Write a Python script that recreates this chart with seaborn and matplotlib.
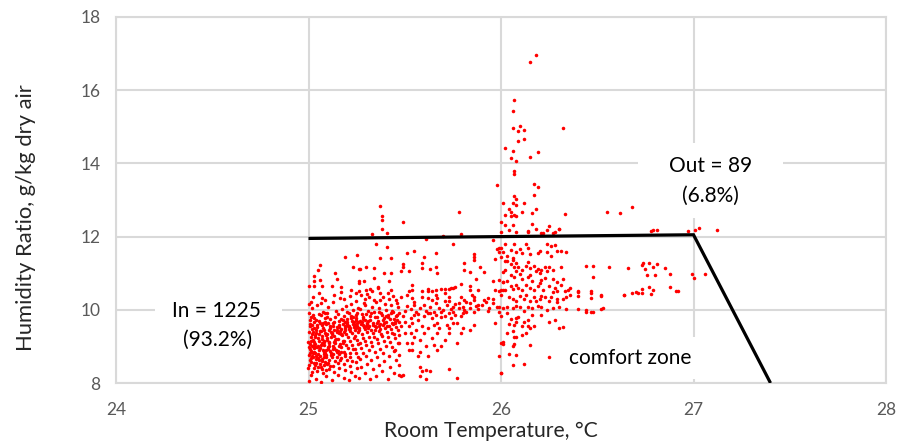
import matplotlib
matplotlib.use("Agg")
import matplotlib.pyplot as plt
import seaborn as sns
import pandas as pd
from matplotlib.patches import Rectangle

# ---------------- data ----------------
x_ticks = [24, 25, 26, 27, 28]
y_ticks = [8, 10, 12, 14, 16, 18]

# comfort-zone boundary (Room Temperature, Humidity Ratio)
zone_temp = [25.0, 27.0, 27.4]
zone_hum = [11.95, 12.05, 8.0]

# dense cluster at 25.0-25.26 C
pts_core = [
    (25.004,8.05),(25.012,8.22),(24.998,8.41),(25.027,8.56),(25.015,8.68),(25.003,8.77),(25.031,8.85),(25.008,8.93),(25.019,9.02),(24.996,9.11),
    (25.024,9.18),(25.011,9.27),(25.002,9.38),(25.017,9.47),(25.006,9.55),(25.029,9.66),(25.013,9.79),(25.001,9.92),(25.016,10.05),(25.005,10.17),
    (25.038,8.12),(25.046,8.33),(25.033,8.49),(25.052,8.62),(25.041,8.74),(25.036,8.81),(25.057,8.89),(25.044,8.97),(25.034,9.06),(25.055,9.14),
    (25.047,9.22),(25.032,9.31),(25.058,9.42),(25.043,9.58),(25.037,9.71),(25.053,9.88),(25.045,10.12),(25.021,8.70),(25.049,9.00),(25.026,8.95),
    (25.009,8.62),(25.022,8.81),(25.014,8.88),(25.035,8.99),(25.007,9.07),(25.028,9.12),(25.018,9.33),(25.040,9.36),(25.010,9.61),(25.025,9.85),
    (25.003,8.50),(25.020,8.30),(25.048,8.45),(25.030,9.50),(25.012,10.20),
    (25.063,8.02),(25.074,8.27),(25.066,8.45),(25.085,8.58),(25.071,8.66),(25.062,8.73),(25.088,8.82),(25.077,8.91),(25.064,9.03),(25.083,9.12),
    (25.072,9.20),(25.068,9.29),(25.087,9.37),(25.075,9.51),(25.061,9.63),(25.084,9.77),(25.073,9.95),(25.066,10.19),(25.079,8.79),(25.081,9.05),
    (25.093,8.18),(25.104,8.38),(25.097,8.52),(25.109,8.64),(25.092,8.76),(25.113,8.87),(25.099,8.99),(25.106,9.09),(25.094,9.17),(25.116,9.26),
    (25.098,9.35),(25.108,9.46),(25.091,9.60),(25.112,9.74),(25.096,9.90),(25.103,10.08),(25.118,8.83),(25.101,8.94),(25.095,9.24),(25.111,9.55),
    (25.069,8.60),(25.078,8.85),(25.090,8.70),(25.082,9.15),(25.107,9.13),(25.067,9.42),(25.115,9.40),(25.086,9.67),
    (25.122,8.07),(25.131,8.31),(25.126,8.47),(25.138,8.59),(25.124,8.71),(25.129,8.80),(25.141,8.90),(25.127,9.01),(25.135,9.13),(25.144,9.21),
    (25.121,9.33),(25.133,9.44),(25.146,9.53),(25.128,9.65),(25.139,9.81),(25.142,9.97),(25.125,10.22),(25.149,8.84),(25.136,9.09),(25.132,9.28),
    (25.152,8.23),(25.161,8.42),(25.155,8.55),(25.168,8.68),(25.158,8.79),(25.153,8.88),(25.171,8.97),(25.163,9.07),(25.151,9.19),(25.174,9.30),
    (25.166,9.41),(25.157,9.52),(25.177,9.62),(25.169,9.75),(25.154,9.89),(25.172,10.03),(25.165,10.33),(25.159,9.36),(25.178,9.15),(25.162,8.62),
    (25.134,8.95),(25.147,9.38),(25.156,9.70),(25.170,9.48),(25.128,9.57),
    (25.183,8.14),(25.191,8.36),(25.186,8.51),(25.198,8.64),(25.188,8.75),(25.184,8.86),(25.203,8.95),(25.194,9.04),(25.185,9.16),(25.207,9.25),
    (25.196,9.34),(25.189,9.45),(25.205,9.56),(25.192,9.68),(25.187,9.82),(25.201,9.94),(25.195,10.11),(25.182,9.39),(25.209,9.48),(25.199,9.60),
    (25.212,8.09),(25.221,8.29),(25.215,8.46),(25.228,8.61),(25.218,8.72),(25.213,8.83),(25.232,8.92),(25.224,9.03),(25.216,9.14),(25.235,9.23),
    (25.226,9.37),(25.214,9.49),(25.238,9.58),(25.227,9.70),(25.219,9.84),(25.233,9.99),(25.222,10.16),(25.217,9.43),(25.236,9.52),(25.229,9.62),
    (25.242,8.20),(25.251,8.40),(25.245,8.57),(25.258,8.70),(25.248,8.81),(25.243,8.93),(25.256,9.06),(25.252,9.17),(25.244,9.28),(25.259,9.40),
    (25.249,9.51),(25.241,9.59),(25.255,9.67),(25.247,9.77),(25.253,9.91),(25.257,10.06),(25.246,10.25),(25.240,9.46),(25.254,9.56),(25.250,9.63),
    (25.200,9.74),(25.230,9.79),(25.210,9.90),(25.245,9.85),(25.190,9.57),
]

# extra points in the densest part of the cluster
pts_core_extra = [
    (25.006,8.83),(25.017,8.74),(25.028,9.03),(25.039,8.66),(25.051,8.79),(25.060,8.95),(25.071,9.08),(25.082,8.72),(25.093,8.90),(25.104,9.02),
    (25.115,8.76),(25.126,8.93),(25.137,9.17),(25.148,8.71),(25.159,9.00),(25.170,8.86),(25.181,9.08),(25.192,8.80),(25.011,9.15),(25.023,9.40),
    (25.034,9.25),(25.046,9.52),(25.057,9.33),(25.068,9.58),(25.079,9.44),(25.090,9.30),(25.102,9.64),(25.113,9.49),(25.124,9.36),(25.135,9.68),
    (25.146,9.45),(25.157,9.59),(25.168,9.34),(25.179,9.71),(25.190,9.50),(25.201,9.66),(25.212,9.55),(25.223,9.78),(25.234,9.66),(25.245,9.72),
    (25.004,8.98),(25.015,8.58),(25.026,8.40),(25.037,8.55),(25.048,8.69),(25.059,8.52),(25.070,8.37),(25.081,8.49),(25.092,8.35),(25.103,8.55),
    (25.114,8.47),(25.008,9.72),(25.019,9.58),(25.030,9.78),(25.041,9.46),(25.052,9.69),(25.063,9.85),(25.074,9.64),(25.085,9.92),(25.096,9.80),
]

# band 25.26-25.47 C
pts_mid = [
    (25.263,8.15),(25.274,8.44),(25.268,8.66),(25.282,8.82),(25.271,8.96),(25.266,9.08),(25.285,9.22),(25.277,9.33),(25.262,9.44),(25.288,9.53),
    (25.273,9.61),(25.265,9.70),(25.284,9.79),(25.276,9.88),(25.269,10.02),(25.287,10.18),(25.272,10.41),(25.281,9.58),(25.264,9.50),(25.279,9.66),
    (25.293,8.26),(25.304,8.53),(25.297,8.74),(25.312,8.90),(25.301,9.03),(25.294,9.15),(25.316,9.27),(25.306,9.38),(25.291,9.47),(25.313,9.57),
    (25.302,9.64),(25.296,9.73),(25.318,9.83),(25.307,9.96),(25.292,10.13),(25.314,10.35),(25.305,9.60),(25.299,9.55),(25.311,9.69),(25.308,9.50),
    (25.322,8.10),(25.333,8.37),(25.326,8.63),(25.344,8.85),(25.331,9.00),(25.324,9.12),(25.342,9.25),(25.336,9.36),(25.327,9.46),(25.347,9.55),
    (25.334,9.63),(25.321,9.72),(25.345,9.81),(25.338,9.93),(25.329,10.08),(25.341,10.27),(25.337,9.58),(25.348,9.44),
    (25.353,8.20),(25.364,8.48),(25.357,8.71),(25.372,8.94),(25.361,9.10),(25.354,9.21),(25.376,9.33),(25.366,9.43),(25.351,9.52),(25.373,9.61),
    (25.362,9.70),(25.356,9.80),(25.378,9.91),(25.367,10.04),(25.352,10.21),(25.374,10.46),(25.365,9.57),(25.371,9.48),
    (25.383,8.32),(25.394,8.60),(25.386,8.83),(25.404,9.02),(25.391,9.16),(25.384,9.29),(25.406,9.40),(25.396,9.49),(25.387,9.58),(25.402,9.68),
    (25.393,9.77),(25.381,9.87),(25.405,10.00),(25.397,10.15),(25.388,10.36),(25.408,9.55),(25.392,9.63),
    (25.413,8.12),(25.424,8.44),(25.416,8.75),(25.434,8.97),(25.421,9.13),(25.414,9.26),(25.436,9.37),(25.426,9.47),(25.417,9.56),(25.432,9.65),
    (25.423,9.74),(25.411,9.85),(25.435,9.97),(25.427,10.12),(25.418,10.30),(25.438,9.60),
    (25.443,8.27),(25.454,8.62),(25.446,8.88),(25.464,9.08),(25.451,9.22),(25.444,9.34),(25.466,9.45),(25.456,9.54),(25.447,9.63),(25.462,9.72),
    (25.453,9.82),(25.441,9.94),(25.465,10.09),(25.457,10.26),(25.448,9.68),
    (25.024,10.36),(25.053,10.45),(25.087,10.27),(25.134,10.41),(25.168,10.48),(25.213,10.38),(25.247,10.45),(25.296,10.30),(25.331,10.50),
    (25.369,10.27),(25.412,10.45),(25.437,10.38),(25.072,10.32),(25.186,10.29),(25.306,10.42),
    (25.285,9.74),(25.325,9.90),(25.355,9.65),(25.385,9.72),(25.415,9.80),(25.445,9.76),(25.300,9.88),(25.365,9.95),(25.430,9.90),(25.400,9.83),
]

# 25.45-26.0 C, below 10.5
pts_band = [
    (25.46,10.18),(25.48,10.36),(25.51,10.41),(25.54,10.32),(25.55,10.14),(25.59,10.36),(25.62,10.32),(25.64,10.27),(25.66,10.41),
    (25.67,10.32),(25.71,10.23),(25.73,10.36),(25.75,10.09),(25.78,10.18),(25.81,10.27),(25.84,10.18),(25.86,10.36),(25.88,10.14),
    (25.91,10.27),(25.93,10.32),(25.96,10.18),(25.98,10.09),(25.71,10.45),(25.62,10.50),(25.52,10.50),
    (25.46,9.86),(25.47,9.91),(25.49,9.82),(25.47,9.68),(25.50,9.68),(25.53,9.77),(25.55,9.86),(25.57,9.73),(25.60,9.82),(25.62,9.91),
    (25.64,9.77),(25.66,9.86),(25.69,9.95),(25.71,9.82),(25.73,9.91),(25.74,9.77),(25.76,9.86),(25.79,9.82),(25.80,9.91),(25.82,9.95),
    (25.86,9.95),(25.97,9.64),(25.67,9.64),(25.75,9.64),(25.48,9.55),(25.52,9.55),(25.54,9.64),(25.56,9.45),(25.59,9.55),(25.62,9.50),
    (25.65,9.59),(25.68,9.50),(25.72,9.59),(25.73,9.50),(25.77,9.64),(25.79,9.36),(25.80,9.50),(25.86,9.59),(25.84,9.45),
    (25.47,9.32),(25.50,9.36),(25.53,9.36),(25.55,9.27),(25.58,9.18),(25.60,9.36),(25.64,9.23),(25.67,9.36),(25.71,9.18),(25.73,9.36),
    (25.77,9.09),(25.47,9.09),(25.51,9.09),(25.54,9.09),(25.52,8.91),(25.54,8.91),(25.58,8.86),(25.61,9.00),(25.65,9.05),(25.67,8.91),
    (25.69,9.00),(25.45,8.91),(25.47,8.77),(25.57,8.73),(25.62,8.73),(25.47,8.50),(25.58,8.43),(25.59,8.32),(25.61,8.36),(25.63,8.32),
    (25.73,8.38),(25.47,8.23),(25.48,8.20),(25.49,8.23),(25.58,8.20),(25.61,8.11),(25.77,8.14),(26.00,9.09),(26.00,8.27),
    (25.50,9.97),(25.53,10.02),(25.56,9.93),(25.58,10.05),(25.61,9.98),(25.63,10.08),(25.65,9.94),(25.68,10.04),(25.70,9.99),
    (25.72,10.12),(25.74,10.01),(25.76,10.15),(25.78,10.04),(25.80,10.09),(25.82,10.20),(25.84,10.05),(25.86,10.27),(25.88,10.02),
    (25.90,10.13),(25.92,10.22),(25.94,10.06),(25.57,9.88),(25.63,9.92),(25.69,9.80),(25.75,9.93),(25.81,10.00),(25.87,10.10),
    (25.93,9.98),(25.96,10.30),(25.85,10.40),(25.79,10.34),(25.73,10.25),(25.66,10.19),(25.60,10.12),(25.55,10.22),(25.51,10.10),
]

# 25.0-26.0 C, above 10.5
pts_upper = [
    (25.37,12.83),(25.38,12.56),(25.38,12.45),(25.49,12.39),(25.78,12.68),(25.33,12.08),(25.38,12.20),(25.41,12.11),(25.79,12.08),(25.70,12.02),
    (25.35,11.80),(25.41,11.71),(25.61,11.93),(25.75,11.80),(25.96,11.92),(25.99,11.68),(25.98,11.66),(25.25,11.49),(25.19,11.45),(25.37,11.42),
    (25.43,11.42),(25.51,11.54),(25.55,11.60),(25.66,11.54),(25.60,11.45),(25.86,11.52),(25.97,11.40),(26.00,11.44),
    (25.06,11.22),(25.05,11.08),(25.14,11.01),(25.23,11.17),(25.26,11.11),(25.27,11.12),(25.30,11.17),(25.34,11.13),(25.39,11.00),(25.43,11.00),
    (25.48,11.06),(25.49,11.16),(25.49,11.25),(25.52,11.06),(25.59,11.28),(25.59,11.14),(25.63,11.11),(25.66,11.17),(25.67,11.00),(25.81,11.29),
    (25.81,11.09),(25.86,11.45),(25.86,11.36),(25.84,11.03),(25.89,11.17),(25.91,11.03),
    (25.03,10.92),(25.06,10.81),(25.03,10.80),(25.15,10.83),(25.03,10.66),(25.07,10.66),(25.12,10.66),(25.17,10.62),(25.26,10.79),(25.26,10.74),
    (25.29,10.78),(25.34,10.88),(25.36,10.63),(25.42,10.78),(25.54,10.68),(25.79,10.70),(25.84,10.65),(25.87,10.85),(25.96,10.78),(26.01,10.76),
    (25.00,10.65),
    (25.22,10.55),(25.26,10.52),(25.30,10.53),(25.32,10.56),(25.36,10.60),(25.43,10.55),(25.54,10.55),(25.59,10.52),(25.62,10.57),(25.64,10.52),
    (25.66,10.54),(25.69,10.57),(25.71,10.57),(25.73,10.58),(25.74,10.59),(25.75,10.60),(25.76,10.61),(25.84,10.55),(25.88,10.55),(25.97,10.55),
    (26.00,10.55),(26.01,10.55),
]

# column around 26 C, below the line
pts_col26 = [
    (26.02,11.79),(26.00,11.68),(26.01,11.57),(25.99,11.57),(26.03,11.47),(26.05,11.64),(26.06,11.41),(26.07,11.80),(26.08,11.59),(26.10,11.67),
    (26.11,11.55),(26.13,11.80),(26.14,11.68),(26.15,11.52),(26.19,11.54),(26.20,11.61),(26.24,11.80),(26.26,11.75),(26.28,11.77),(26.24,11.57),
    (26.26,11.46),(26.29,11.61),(26.31,11.61),(26.34,11.59),(26.02,11.34),(26.03,11.32),(26.05,11.26),(26.06,11.36),(26.07,11.18),(26.08,11.27),
    (26.09,11.17),(26.11,11.10),(26.13,11.20),(26.14,11.30),(26.15,11.15),(26.17,11.20),(26.19,11.12),(26.21,11.09),(26.23,11.16),(26.24,11.05),
    (26.25,11.16),(26.27,11.09),(26.31,11.18),(26.44,11.20),(26.48,11.20),(26.56,11.17),(26.01,11.03),(26.02,11.09),(26.05,10.95),(26.07,10.89),
    (26.08,11.05),(26.10,10.98),(26.11,10.85),(26.14,10.89),(26.15,10.95),(26.16,10.80),(26.18,11.05),(26.20,11.00),(26.21,10.82),(26.23,10.86),
    (26.27,10.84),(26.29,10.75),(26.32,10.85),(26.48,10.89),(25.99,10.82),(26.01,10.75),(26.03,10.80),(26.05,10.66),(26.06,10.57),(26.08,10.69),
    (26.09,10.59),(26.11,10.53),(26.13,10.68),(26.15,10.59),(26.17,10.53),(26.19,10.64),(26.20,10.73),(26.22,10.55),(26.25,10.64),(26.27,10.48),
    (26.28,10.59),(26.29,10.50),(26.31,10.67),(26.33,10.51),(26.36,10.59),(26.36,10.41),(26.40,10.51),(26.40,10.38),(26.47,10.50),(26.47,10.33),
    (26.52,10.41),(26.64,10.41),(25.99,10.50),(26.00,10.41),(26.02,10.53),(26.04,10.35),(26.06,10.29),(26.08,10.24),(26.10,10.38),(26.12,10.29),
    (26.13,10.41),(26.15,10.25),(26.17,10.35),(26.18,10.24),(26.20,10.29),(26.21,10.38),(26.23,10.36),(26.25,10.24),(26.26,10.35),(26.29,10.29),
    (26.29,10.20),(26.32,10.29),(26.34,10.35),(25.99,10.09),(26.01,10.04),(26.03,10.07),(26.06,10.05),(26.08,10.11),(26.10,10.07),(26.12,9.98),
    (26.14,10.07),(26.16,10.04),(26.19,10.11),(26.21,10.07),(26.24,10.00),(26.27,10.05),(26.30,10.07),(26.34,10.03),(26.40,10.02),(26.44,10.00),
    (26.47,9.95),(26.53,10.04),(25.99,9.93),(26.00,9.82),(26.03,9.91),(26.05,9.75),(26.08,9.77),(26.09,9.81),(26.08,9.68),(26.12,9.68),
    (26.14,9.73),(26.16,9.85),(26.14,9.56),(26.11,9.55),(26.07,9.59),(26.04,9.62),(26.06,9.41),(26.03,9.36),(26.07,9.27),(26.08,9.25),
    (26.11,9.32),(26.13,9.36),(26.15,9.50),(26.17,9.56),(26.21,9.86),(26.25,9.68),(26.28,9.73),(26.30,9.49),(26.32,9.53),(26.01,9.11),
    (26.01,9.07),(26.06,9.00),(26.07,9.07),(26.15,9.05),(26.04,8.80),(26.08,8.77),(25.99,8.73),(26.25,8.70),(26.06,8.48),(26.12,8.52),
    (26.00,8.27),
]

# 26.3-27.1 C
pts_right = [
    (26.78,12.14),(26.79,12.17),(26.81,12.17),(26.97,12.14),(27.01,12.19),(27.03,12.23),(27.12,12.19),
    (26.66,11.14),(26.73,11.23),(26.74,11.27),(26.77,11.28),(26.75,11.11),(26.79,11.17),(26.81,11.24),(26.85,11.15),(26.76,10.95),
    (26.80,10.95),(26.88,10.97),(26.99,10.98),(27.00,10.88),(27.06,10.97),(26.64,10.40),(26.68,10.47),(26.70,10.49),(26.71,10.46),
    (26.73,10.46),(26.73,10.56),(26.77,10.62),(26.79,10.55),(26.78,10.44),(26.88,10.63),(26.91,10.52),(26.92,10.52),
    (26.52,10.38),(26.47,10.45),(26.40,10.49),(26.35,10.54),(26.48,9.94),(26.52,10.02),(26.44,9.95),(26.30,12.21),(26.24,12.17),(26.27,12.10),
]

# high-humidity points near 26 C (mostly outside the zone)
pts_high = [
    (26.18,16.96),(26.15,16.76),(26.07,15.73),(26.06,15.43),(26.06,14.97),(26.10,15.02),(26.12,14.91),(26.09,14.88),(26.32,14.97),(26.12,14.66),
    (26.09,14.62),(26.02,14.43),(26.06,14.34),(26.19,14.31),(26.15,14.17),(26.05,14.14),(26.08,14.06),(26.07,13.79),(26.07,13.70),(25.98,13.40),
    (26.17,13.43),(26.19,13.35),(26.17,13.14),(26.07,13.11),(26.08,13.02),(26.01,12.91),(26.06,12.91),(26.08,12.86),(26.12,12.91),(26.04,12.76),
    (26.18,12.76),(26.05,12.67),(26.11,12.67),(26.16,12.65),(26.02,12.59),(26.05,12.56),(26.07,12.59),(26.08,12.57),(26.33,12.62),(26.55,12.67),
    (26.62,12.65),(26.68,12.82),(26.00,12.39),(26.06,12.31),(26.16,12.34),(26.25,12.30),(26.02,12.31),(26.04,12.19),(26.14,12.16),(26.14,12.13),
    (26.18,12.20),(26.08,12.12),(26.30,12.22),(26.00,12.12),(26.21,12.09),(26.22,12.11),(26.28,12.12),
]

points = pts_core + pts_core_extra + pts_mid + pts_band + pts_upper + pts_col26 + pts_right + pts_high
df = pd.DataFrame(points, columns=["Room Temperature", "Humidity Ratio"])

# ---------------- styling ----------------
sns.set_theme(style="white")
plt.rcParams['font.family'] = ['Lato', 'DejaVu Sans']

fig = plt.figure(figsize=(9.01, 4.46), dpi=100)
ax = fig.add_axes([116/901, 1 - 383/446, 770/901, 366/446])

grid_c = "#d9d9d9"
ax.set_xlim(24, 28)
ax.set_ylim(8, 18)
ax.set_xticks(x_ticks)
ax.set_yticks(y_ticks)
ax.grid(True, color=grid_c, lw=1.5, zorder=0)
ax.set_axisbelow(True)
for s in ax.spines.values():
    s.set_color(grid_c)
    s.set_linewidth(1.5)
    s.set_zorder(0)
ax.tick_params(axis="both", length=0, labelsize=12.5, labelcolor="#595959")
ax.tick_params(axis="x", pad=14)
ax.tick_params(axis="y", pad=11)

# white boxes hiding the grid behind the annotations
for (x0, y0, w, h) in [(24.20, 8.80, 0.66, 1.72), (26.71, 12.51, 0.755, 2.05), (26.31, 8.12, 0.72, 1.15)]:
    ax.add_patch(Rectangle((x0, y0), w, h, facecolor="white", edgecolor="none", zorder=1))

sns.scatterplot(data=df, x="Room Temperature", y="Humidity Ratio", color="#ff0000",
                s=6.5, marker="o", linewidth=0, ax=ax, zorder=3, legend=False)
ax.plot(zone_temp, zone_hum, color="black", lw=2.3, zorder=4, solid_capstyle="butt",
        solid_joinstyle="miter")

tkw = dict(fontsize=15, color="black", ha="center", va="center", zorder=5)
ax.text(24.52, 9.97, "In = 1225", **tkw)
ax.text(24.53, 9.17, "(93.2%)", **tkw)
ax.text(27.09, 13.93, "Out = 89", **tkw)
ax.text(27.09, 13.11, "(6.8%)", **tkw)
ax.text(26.67, 8.68, "comfort zone", **tkw)

ax.set_xlabel("Room Temperature, °C", fontsize=15.2, color="#262626", va="center")
ax.set_ylabel("Humidity Ratio, g/kg dry air", fontsize=15.8, color="#262626", va="center")
ax.xaxis.set_label_coords((491 - 116) / 770, (383 - 431) / 366)
ax.yaxis.set_label_coords((26 - 116) / 770, (383 - 218) / 366)

fig.savefig("out.png", dpi=100)
